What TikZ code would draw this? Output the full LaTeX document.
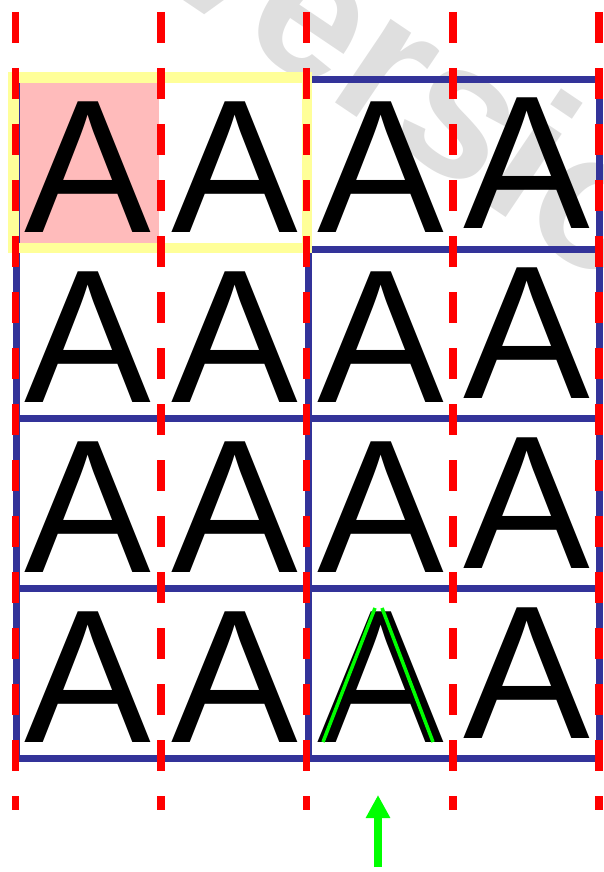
\documentclass[tikz,border=0pt]{standalone}
\usepackage{fontspec}
\setmainfont{Liberation Sans}
\usetikzlibrary{arrows.meta,positioning}
\definecolor{gridblue}{RGB}{51,51,153}
\definecolor{cellpink}{RGB}{255,187,187}
\definecolor{frameyellow}{RGB}{255,255,153}
\definecolor{markgreen}{RGB}{0,255,0}

\begin{document}
\begin{tikzpicture}[
  x=1pt, y=-1pt,
  node distance=0pt,
  cell/.style={inner sep=0pt, minimum width=145.9pt, minimum height=169.6pt, font=\fontsize{190}{190}\selectfont},
  lastcell/.style={cell, yshift=4pt},
  gridline/.style={gridblue, line width=7pt, line cap=rect},
  redguide/.style={red, line width=7.5pt, dash pattern=on 31pt off 25pt},
  outline/.style={markgreen, line width=3.5pt},
  arrow/.style={-{Triangle[length=23pt,width=23pt]}, markgreen, line width=8.5pt}
]
\useasboundingbox (0,0) rectangle (604,872);
\clip (0,0) rectangle (604,872);

% watermark
\node[text=gray!25, font=\fontsize{190}{190}\selectfont\bfseries, rotate=-34, anchor=base west, inner sep=0pt] (mark) at (140,-29) {Version};

% selected cell
\fill[cellpink] (20,83) rectangle (159,243);

% blue grid
\draw[gridline] (16.5,79.5) -- (599,79.5);
\draw[gridline] (16.5,249) -- (599,249);
\draw[gridline] (16.5,418.5) -- (599,418.5);
\draw[gridline] (16.5,588) -- (599,588);
\draw[gridline] (16.5,758) -- (599,758);
\draw[gridline] (16.5,79.5) -- (16.5,758);
\draw[gridline] (308.5,79.5) -- (308.5,758);
\draw[gridline] (599,79.5) -- (599,758);

% glyphs
\node[cell] (a11) at (88.2,167) {A};
\node[cell, right=of a11] (a12) {A};
\node[cell, right=of a12] (a13) {A};
\node[lastcell, right=of a13] (a14) {A};
\node[cell, below=of a11] (a21) {A};
\node[cell, right=of a21] (a22) {A};
\node[cell, right=of a22] (a23) {A};
\node[lastcell, right=of a23] (a24) {A};
\node[cell, below=of a21] (a31) {A};
\node[cell, right=of a31] (a32) {A};
\node[cell, right=of a32] (a33) {A};
\node[lastcell, right=of a33] (a34) {A};
\node[cell, below=of a31] (a41) {A};
\node[cell, right=of a41] (a42) {A};
\node[cell, right=of a42] (a43) {A};
\node[lastcell, right=of a43] (a44) {A};

% highlight frame
\draw[frameyellow, line width=10.5pt] (13.5,77.5) rectangle (307,248);

% dashed guides
\draw[redguide] (15.5,12) -- (15.5,810);
\draw[redguide] (161,12) -- (161,810);
\draw[redguide] (306.7,12) -- (306.7,810);
\draw[redguide] (453,12) -- (453,810);
\draw[redguide] (599,12) -- (599,810);

% stroke outline on a43
\draw[outline] (323,742) -- (375,608);
\draw[outline] (382,608) -- (433,742);

\coordinate (tail) at (378,867);
\coordinate (tip) at (378,795);
\draw[arrow] (tail) -- (tip);
\end{tikzpicture}
\end{document}
